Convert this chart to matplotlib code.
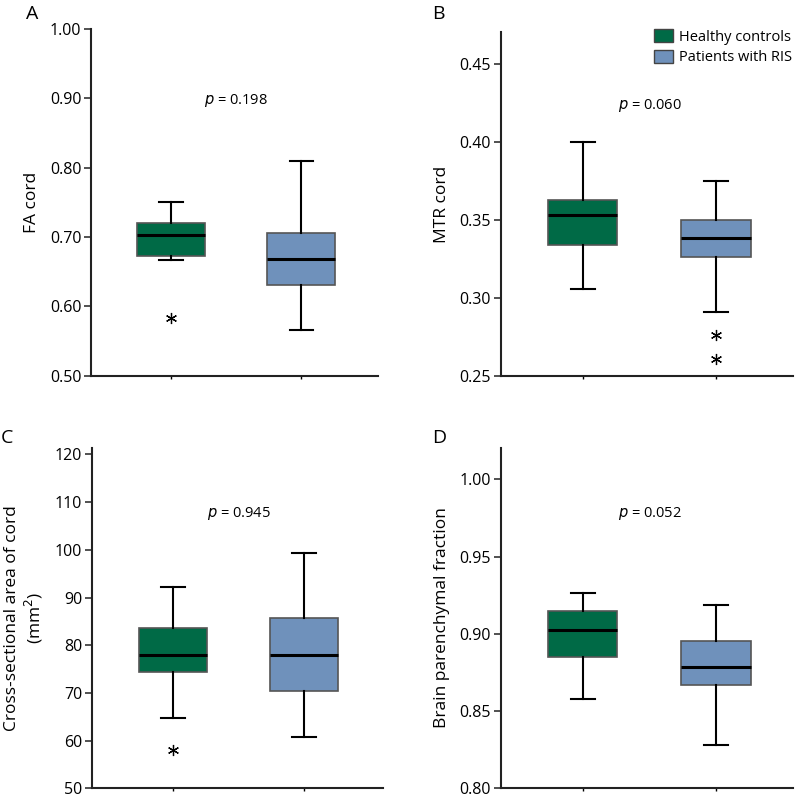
import matplotlib.pyplot as plt
from matplotlib.patches import Patch

plt.rcParams['font.family'] = ['Open Sans', 'DejaVu Sans']

groups = ["Healthy controls", "Patients with RIS"]
green = "#006a46"
blue = "#6f91bb"

# box stats per panel: (whislo, q1, med, q3, whishi) for controls, RIS
fa_stats = [(0.667, 0.673, 0.703, 0.720, 0.750), (0.566, 0.631, 0.669, 0.706, 0.809)]
fa_out = [[0.584], []]
mtr_stats = [(0.306, 0.334, 0.353, 0.363, 0.400), (0.291, 0.326, 0.3385, 0.350, 0.375)]
mtr_out = [[], [0.276, 0.261]]
csa_stats = [(64.7, 74.4, 78.0, 83.6, 92.2), (60.8, 70.4, 78.0, 85.8, 99.4)]
csa_out = [[58.0], []]
bpf_stats = [(0.858, 0.885, 0.9028, 0.9145, 0.9267), (0.828, 0.867, 0.8784, 0.8955, 0.9184)]
bpf_out = [[], []]

panels = [
    ("A", fa_stats, fa_out, "FA cord", "p = 0.198", 0.897, (0.50, 1.00),
     [0.5, 0.6, 0.7, 0.8, 0.9, 1.0], "{:.2f}", [0.1145, 0.529, 0.361, 0.435], 2.59, (26, 19)),
    ("B", mtr_stats, mtr_out, "MTR cord", "p = 0.060", 0.4233, (0.25, 0.4705),
     [0.25, 0.30, 0.35, 0.40, 0.45], "{:.2f}", [0.630, 0.529, 0.368, 0.431], 2.58, (432, 19)),
    ("C", csa_stats, csa_out, "Cross-sectional area of cord\n(mm$^2$)", "p = 0.945", 107.7, (50, 121.4),
     [50, 60, 70, 80, 90, 100, 110, 120], "{:.0f}", [0.1157, 0.012, 0.366, 0.427], 2.6, (1, 443)),
    ("D", bpf_stats, bpf_out, "Brain parenchymal fraction", "p = 0.052", 0.9776, (0.80, 1.0205),
     [0.80, 0.85, 0.90, 0.95, 1.00], "{:.2f}", [0.630, 0.012, 0.368, 0.427], 2.58, (432, 443)),
]

W, H = 795, 798
fig = plt.figure(figsize=(7.95, 7.98), dpi=100)

for letter, stats, outs, ylab, ptxt, py, ylim, ticks, fmt, pos, xr, lpos in panels:
    ax = fig.add_axes(pos)
    bxp = []
    for (lo, q1, med, q3, hi), fl in zip(stats, outs):
        bxp.append(dict(whislo=lo, q1=q1, med=med, q3=q3, whishi=hi, fliers=[]))
    res = ax.bxp(bxp, positions=[1, 2], widths=0.52, patch_artist=True,
                 showfliers=False,
                 boxprops=dict(edgecolor="#555555", linewidth=1.2),
                 medianprops=dict(color="black", linewidth=2.2),
                 whiskerprops=dict(color="black", linewidth=1.5),
                 capprops=dict(color="black", linewidth=1.5), capwidths=0.18)
    for b, c in zip(res["boxes"], [green, blue]):
        b.set_facecolor(c)
    for i, fl in enumerate(outs):
        for v in fl:
            ax.plot(i + 1, v, marker=(6, 2, 0), color="black", markersize=8,
                    markeredgewidth=0.9, linestyle="none")
    ax.set_xlim(0.385, xr)
    ax.set_ylim(*ylim)
    ax.set_yticks(ticks)
    ax.set_yticklabels([fmt.format(t) for t in ticks])
    ax.set_xticks([1, 2])
    ax.set_xticklabels(["", ""])
    ax.tick_params(axis="y", labelsize=11.5, length=5, width=1.2, color="#333333", pad=2)
    ax.tick_params(axis="x", length=2, width=1)
    for s in ["top", "right"]:
        ax.spines[s].set_visible(False)
    for s in ["left", "bottom"]:
        ax.spines[s].set_linewidth(1.5)
        ax.spines[s].set_color("#222222")
    ax.set_ylabel(ylab, fontsize=12.5, labelpad=7)
    ax.text(1.5, py, "$\\it{p}$" + ptxt[1:], ha="center", va="center", fontsize=10.5)
    fig.text(lpos[0] / W, 1 - lpos[1] / H, letter, fontsize=14, ha="left", va="baseline")
    if letter == "B":
        handles = [Patch(facecolor=c, edgecolor="#444444", label=g) for c, g in zip([green, blue], groups)]
        ax.legend(handles=handles, loc="upper left", bbox_to_anchor=(654 / W, 1 - 29 / H),
                  bbox_transform=fig.transFigure, frameon=False,
                  fontsize=10.5, handlelength=1.3, handleheight=1.0, handletextpad=0.4,
                  labelspacing=0.35, borderpad=0, borderaxespad=0)

fig.savefig("out.png", dpi=100)
